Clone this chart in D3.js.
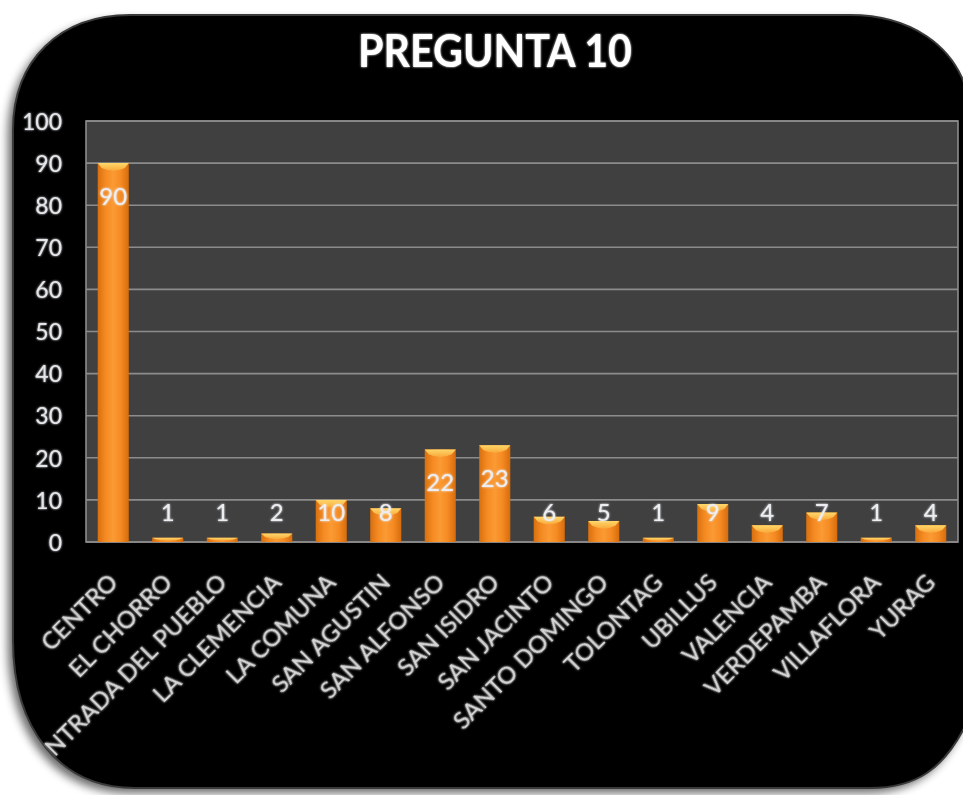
<!DOCTYPE html>
<html><head><meta charset="utf-8">
<script src="https://cdn.jsdelivr.net/npm/d3@7"></script>
<style>
html,body{margin:0;padding:0;background:#fff;}
svg{display:block;}
text{font-family:Lato,"Open Sans",sans-serif;}
</style></head>
<body>
<script>
const categories = ["CENTRO","EL CHORRO","ENTRADA DEL PUEBLO","LA CLEMENCIA","LA COMUNA","SAN AGUSTIN","SAN ALFONSO","SAN ISIDRO","SAN JACINTO","SANTO DOMINGO","TOLONTAG","UBILLUS","VALENCIA","VERDEPAMBA","VILLAFLORA","YURAG"];
const values = [90,1,1,2,10,8,22,23,6,5,1,9,4,7,1,4];
const yTicks = [0,10,20,30,40,50,60,70,80,90,100];
const title = "PREGUNTA 10";

(function(){
const W = 963, H = 795;
const svg = d3.select("body").append("svg").attr("width", W).attr("height", H);
const defs = svg.append("defs");

// drop shadow
const f = defs.append("filter").attr("id","sh").attr("x","-10%").attr("y","-10%").attr("width","120%").attr("height","120%");
f.append("feGaussianBlur").attr("in","SourceAlpha").attr("stdDeviation",5).attr("result","b");
f.append("feOffset").attr("in","b").attr("dx",-5).attr("dy",5).attr("result","o");
f.append("feComponentTransfer").attr("in","o").attr("result","o2").append("feFuncA").attr("type","linear").attr("slope",0.6);
const fm = f.append("feMerge"); fm.append("feMergeNode").attr("in","o2"); fm.append("feMergeNode").attr("in","SourceGraphic");

// glow for text
const g2 = defs.append("filter").attr("id","glow").attr("x","-20%").attr("y","-20%").attr("width","140%").attr("height","140%");
g2.append("feGaussianBlur").attr("in","SourceGraphic").attr("stdDeviation",0.8).attr("result","bl");
const m2 = g2.append("feMerge"); m2.append("feMergeNode").attr("in","bl"); m2.append("feMergeNode").attr("in","SourceGraphic");

// panel shape
const panelPath = "M 130 15 L 850 15 C 910 15 955 45 968 95 L 968 720 C 945 770 915 788 870 788 L 135 788 C 60 788 13 730 13 640 L 13 130 C 13 60 60 15 130 15 Z";
defs.append("clipPath").attr("id","panelClip").append("path").attr("d", panelPath);

svg.append("path").attr("d", panelPath).attr("fill","#000").attr("filter","url(#sh)");
svg.append("path").attr("d", panelPath).attr("fill","none").attr("stroke","#3a3a3a").attr("stroke-width",2);

const root = svg.append("g").attr("clip-path","url(#panelClip)");

// gradients
const bg = defs.append("linearGradient").attr("id","barG").attr("x1","0").attr("x2","1").attr("y1","0").attr("y2","0");
[[0,"#d8700f"],[0.25,"#f58a22"],[0.5,"#fb9a33"],[0.75,"#f58a22"],[1,"#d66c0c"]].forEach(([o,c])=>bg.append("stop").attr("offset",o).attr("stop-color",c));
const cg = defs.append("linearGradient").attr("id","capG").attr("x1","0").attr("x2","0").attr("y1","0").attr("y2","1");
[[0,"#ffd76a"],[1,"#f9a93a"]].forEach(([o,c])=>cg.append("stop").attr("offset",o).attr("stop-color",c));

const pLeft = 86, pRight = 958, pTop = 121, pBottom = 542;
const x = d3.scaleBand().domain(categories).range([pLeft,pRight]).paddingInner(0.43).paddingOuter(0.215);
const y = d3.scaleLinear().domain([0,100]).range([pBottom, pTop]);

// plot area
root.append("rect").attr("x",pLeft).attr("y",pTop).attr("width",pRight-pLeft).attr("height",pBottom-pTop).attr("fill","#404040");

// grid
root.append("g").selectAll("line").data(yTicks).join("line")
  .attr("x1",pLeft).attr("x2",pRight).attr("y1",d=>y(d)).attr("y2",d=>y(d))
  .attr("stroke","#8c8c8c").attr("stroke-width",1.6);
root.append("rect").attr("x",pLeft).attr("y",pTop).attr("width",pRight-pLeft).attr("height",pBottom-pTop)
  .attr("fill","none").attr("stroke","#8c8c8c").attr("stroke-width",1.6);

// y axis
const yAxis = root.append("g").attr("transform",`translate(${pLeft-24},0)`)
  .call(d3.axisLeft(y).tickValues(yTicks).tickSize(0).tickPadding(0));
yAxis.select(".domain").remove();
yAxis.selectAll("text").attr("fill","#e4e6ea").attr("font-size",23).attr("filter","url(#glow)").attr("dy","0.36em");

// bars
const bars = root.append("g").selectAll("g").data(values).join("g");
bars.append("rect")
  .attr("x",(d,i)=>x(categories[i])).attr("width",x.bandwidth())
  .attr("y",d=>y(d)).attr("height",d=>y(0)-y(d))
  .attr("fill","url(#barG)");
bars.append("path")
  .attr("d",(d,i)=>{
    const x0 = x(categories[i]), w = x.bandwidth(), t = y(d);
    const h = Math.min(8, (y(0)-y(d))*0.7);
    return `M ${x0} ${t} L ${x0+w} ${t} L ${x0+w-4} ${t+h*0.6} Q ${x0+w/2} ${t+h*1.3} ${x0+4} ${t+h*0.6} Z`;
  })
  .attr("fill","url(#capG)");

// data labels
root.append("g").selectAll("text").data(values).join("text")
  .attr("x",(d,i)=>x(categories[i])+x.bandwidth()/2)
  .attr("y",d=>Math.min(y(d)+33, y(7)))
  .attr("dy","0.36em")
  .attr("text-anchor","middle")
  .attr("font-size",24)
  .attr("fill","#eceef2")
  .attr("filter","url(#glow)")
  .text(d=>d);

// x labels
root.append("g").selectAll("text").data(categories).join("text")
  .attr("transform",d=>`translate(${x(d)+x.bandwidth()/2+6},${pBottom+42}) rotate(-45)`)
  .attr("text-anchor","end")
  .attr("font-size",24)
  .attr("fill","#d6d6d6")
  .attr("filter","url(#glow)")
  .text(d=>d);

// title
root.append("text").attr("x",495).attr("y",67).attr("text-anchor","middle")
  .attr("font-size",46).attr("font-weight","bold").attr("fill","#fff")
  .attr("textLength",274).attr("lengthAdjust","spacingAndGlyphs")
  .attr("filter","url(#glow)")
  .text(title);
})();
</script>
</body></html>
